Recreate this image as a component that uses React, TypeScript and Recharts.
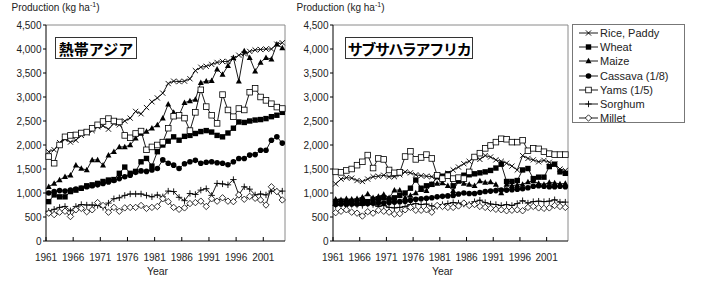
import React from 'react';
import { LineChart, Line, XAxis, YAxis, ReferenceLine, Legend } from 'recharts';

const years = [
  1961, 1962, 1963, 1964, 1965, 1966, 1967, 1968, 1969, 1970,
  1971, 1972, 1973, 1974, 1975, 1976, 1977, 1978, 1979, 1980,
  1981, 1982, 1983, 1984, 1985, 1986, 1987, 1988, 1989, 1990,
  1991, 1992, 1993, 1994, 1995, 1996, 1997, 1998, 1999, 2000,
  2001, 2002, 2003, 2004,
];

const yTicks = [0, 500, 1000, 1500, 2000, 2500, 3000, 3500, 4000, 4500];
const yearTicks = [1960.5, 1965.5, 1970.5, 1975.5, 1980.5, 1985.5, 1990.5, 1995.5, 2000.5];

// 熱帯アジア (kg/ha; cassava shown at 1/8, yams at 1/5)
const asiaRice = [
  1860, 1900, 2050, 2120, 2060, 2100, 2200, 2250, 2300, 2380,
  2400, 2330, 2450, 2420, 2500, 2560, 2700, 2650, 2780, 2900,
  2980, 3080, 3280, 3330, 3320, 3330, 3380, 3550, 3620, 3640,
  3680, 3720, 3740, 3740, 3800, 3870, 3900, 3950, 3980, 3990,
  4000, 4000, 4100, 4130,
];
const asiaWheat = [
  820, 960, 920, 920, 1030, 1060, 1100, 1150, 1170, 1200,
  1240, 1270, 1280, 1410, 1540, 1410, 1450, 1650, 1720, 1560,
  1860, 2000, 2080, 2170, 2100, 2180, 2200, 2240, 2280, 2300,
  2270, 2200, 2170, 2250, 2350, 2480, 2470, 2500, 2520, 2530,
  2550, 2590, 2620, 2680,
];
const asiaMaize = [
  1130, 1200, 1270, 1340, 1370, 1580, 1510, 1480, 1690, 1690,
  1580, 1790, 1860, 1960, 1960, 2000, 2140, 2240, 2280, 2350,
  2420, 2560, 2850, 2680, 2620, 2880, 2920, 2950, 3300, 3330,
  3340, 3580, 3470, 3650, 3820, 3330, 3960, 3820, 3540, 3720,
  3820, 3790, 4100, 4020,
];
const asiaCassava = [
  1000, 1030, 1050, 1040, 1060, 1080, 1100, 1130, 1150, 1170,
  1200, 1230, 1260, 1300, 1340, 1370, 1430, 1460, 1450, 1480,
  1510, 1690, 1620, 1580, 1510, 1610, 1650, 1680, 1620, 1640,
  1650, 1630, 1620, 1590, 1650, 1720, 1720, 1790, 1800, 1890,
  1890, 2100, 2170, 2040,
];
const asiaYams = [
  1760, 1620, 2000, 2170, 2200, 2210, 2250, 2270, 2350, 2420,
  2490, 2550, 2500, 2480, 2200, 2150, 2240, 2290, 1900, 1960,
  2000, 2060, 2350, 2600, 2620, 2560, 2300, 2680, 3150, 2800,
  2620, 2450, 3050, 2730, 2590, 2760, 2730, 3100, 3180, 3000,
  2930, 2860, 2790, 2760,
];
const asiaSorghum = [
  620, 660, 700, 720, 630, 720, 760, 750, 750, 740,
  700, 790, 880, 900, 950, 980, 980, 980, 950, 920,
  960, 920, 1040, 1030, 910, 840, 990, 970, 1060, 1090,
  950, 1200, 1190, 1170, 1280, 960, 1130, 1080, 960, 980,
  960, 1040, 1030, 1040,
];
const asiaMillet = [
  580, 550, 600, 620, 510, 650, 680, 610, 650, 800,
  740, 600, 700, 620, 690, 700, 700, 740, 680, 700,
  720, 880, 820, 700, 660, 690, 780, 800, 830, 720,
  880, 830, 900, 830, 820, 960, 870, 930, 890, 855,
  750, 1130, 1030, 855,
];

// サブサハラアフリカ
const afRice = [
  1190, 1290, 1320, 1310, 1260, 1240, 1290, 1340, 1350, 1370,
  1340, 1340, 1380, 1440, 1420, 1380, 1360, 1350, 1340, 1310,
  1350, 1410, 1480, 1540, 1610, 1660, 1750, 1700, 1780, 1750,
  1690, 1660, 1620, 1560, 1480, 1780, 1720, 1690, 1650, 1680,
  1640, 1600, 1500, 1470,
];
const afWheat = [
  820, 830, 810, 820, 830, 850, 820, 860, 880, 900,
  870, 900, 950, 1000, 1100, 1270, 1100, 1150, 1180, 1340,
  1350, 1400, 1150, 1260, 1370, 1380, 1400, 1420, 1440, 1470,
  1520, 1600, 1240, 1240, 1260, 1480, 1510, 1300, 1330, 1330,
  1550, 1600, 1440, 1410,
];
const afMaize = [
  870, 860, 880, 870, 880, 910, 980, 900, 930, 970,
  900, 1060, 1060, 900, 950, 1000, 1070, 1050, 1180, 1200,
  1210, 1150, 1050, 1240, 1200, 1180, 1150, 1250, 1220, 1230,
  1180, 1000, 1180, 1150, 1170, 1180, 1230, 1250, 1200, 1180,
  1220, 1210, 1190, 1200,
];
const afCassava = [
  760, 770, 760, 770, 770, 780, 780, 790, 790, 790,
  800, 810, 820, 830, 850, 870, 880, 890, 900, 920,
  930, 940, 950, 980, 1000, 990, 990, 1010, 1030, 1040,
  1050, 1060, 1060, 1070, 1080, 1090, 1110, 1140, 1150, 1140,
  1130, 1130, 1140, 1130,
];
const afYams = [
  1440, 1430, 1470, 1500, 1580, 1650, 1790, 1520, 1720, 1700,
  1480, 1420, 1430, 1760, 1870, 1700, 1740, 1800, 1720, 1370,
  1300, 1360, 1300, 1320, 1300, 1440, 1750, 1830, 1930, 1990,
  2060, 2130, 2120, 2060, 2060, 2100, 1880, 1930, 1920, 1860,
  1820, 1800, 1800, 1800,
];
const afSorghum = [
  740, 760, 770, 760, 750, 740, 770, 760, 720, 740,
  700, 690, 700, 720, 760, 780, 760, 770, 730, 720,
  760, 780, 800, 790, 770, 760, 820, 850, 800, 770,
  760, 740, 760, 740, 780, 840, 790, 820, 830, 820,
  830, 860, 810, 810,
];
const afMillet = [
  590, 620, 650, 600, 580, 520, 610, 580, 640, 620,
  600, 560, 570, 650, 700, 640, 640, 650, 600, 740,
  720, 700, 700, 730, 790, 740, 760, 720, 700, 680,
  660, 650, 630, 640, 650, 630, 700, 720, 690, 680,
  690, 740, 720, 700,
];

type Shape = 'cross' | 'square' | 'triangle' | 'circle' | 'openSquare' | 'plus' | 'diamond';

const series: { key: string; name: string; shape: Shape }[] = [
  { key: 'rice', name: 'Rice, Paddy', shape: 'cross' },
  { key: 'wheat', name: 'Wheat', shape: 'square' },
  { key: 'maize', name: 'Maize', shape: 'triangle' },
  { key: 'cassava', name: 'Cassava (1/8)', shape: 'circle' },
  { key: 'yams', name: 'Yams (1/5)', shape: 'openSquare' },
  { key: 'sorghum', name: 'Sorghum', shape: 'plus' },
  { key: 'millet', name: 'Millet', shape: 'diamond' },
];

const buildRows = (cols: Record<string, number[]>) =>
  years.map((year, i) => {
    const row: Record<string, number> = { year };
    Object.keys(cols).forEach((k) => {
      row[k] = cols[k][i];
    });
    return row;
  });

const asiaRows = buildRows({
  rice: asiaRice, wheat: asiaWheat, maize: asiaMaize, cassava: asiaCassava,
  yams: asiaYams, sorghum: asiaSorghum, millet: asiaMillet,
});
const africaRows = buildRows({
  rice: afRice, wheat: afWheat, maize: afMaize, cassava: afCassava,
  yams: afYams, sorghum: afSorghum, millet: afMillet,
});

const FONT = 'Arial, "Liberation Sans", sans-serif';
const JP_FONT = '"Noto Sans CJK JP", "Noto Sans CJK SC", sans-serif';
const INK = '#000';

function Marker({ shape, cx, cy }: { shape: Shape; cx: number; cy: number }) {
  switch (shape) {
    case 'cross':
      return (
        <path
          d={`M${cx - 2.6},${cy - 2.6}L${cx + 2.6},${cy + 2.6}M${cx - 2.6},${cy + 2.6}L${cx + 2.6},${cy - 2.6}`}
          stroke={INK}
          strokeWidth={0.9}
        />
      );
    case 'square':
      return <rect x={cx - 2.7} y={cy - 2.7} width={5.4} height={5.4} fill={INK} />;
    case 'triangle':
      return <polygon points={`${cx},${cy - 3.2} ${cx - 3},${cy + 2.3} ${cx + 3},${cy + 2.3}`} fill={INK} />;
    case 'circle':
      return <circle cx={cx} cy={cy} r={2.8} fill={INK} />;
    case 'openSquare':
      return <rect x={cx - 2.8} y={cy - 2.8} width={5.6} height={5.6} fill="#fff" stroke={INK} strokeWidth={0.8} />;
    case 'plus':
      return (
        <path
          d={`M${cx - 3.2},${cy}L${cx + 3.2},${cy}M${cx},${cy - 3.2}L${cx},${cy + 3.2}`}
          stroke={INK}
          strokeWidth={0.9}
        />
      );
    case 'diamond':
    default:
      return (
        <polygon
          points={`${cx},${cy - 3.2} ${cx + 3.2},${cy} ${cx},${cy + 3.2} ${cx - 3.2},${cy}`}
          fill="#fff"
          stroke={INK}
          strokeWidth={0.8}
        />
      );
  }
}

const YearTick = (props: any) => {
  const { x, y, payload } = props;
  return (
    <g>
      <line x1={x} y1={y} x2={x} y2={y - 4} stroke={INK} strokeWidth={1} />
      <text x={x} y={y + 19.5} textAnchor="middle" fontSize={10} fill="#222" fontFamily={FONT}>
        {Math.round(payload.value + 0.5)}
      </text>
    </g>
  );
};

const LegendBox = () => (
  <div
    style={{
      border: '1px solid #777',
      width: 113,
      height: 99,
      boxSizing: 'border-box',
      paddingTop: 1,
      background: '#fff',
    }}
  >
    {series.map((s) => (
      <div key={s.key} style={{ display: 'flex', alignItems: 'center', height: 14.2 }}>
        <svg width={27} height={14} style={{ flex: 'none' }}>
          <line x1={6} y1={7} x2={25} y2={7} stroke={INK} strokeWidth={0.9} />
          <Marker shape={s.shape} cx={15.5} cy={7} />
        </svg>
        <span style={{ fontSize: 11, color: '#222', fontFamily: FONT, lineHeight: '14px' }}>{s.name}</span>
      </div>
    ))}
  </div>
);

function Panel({
  rows,
  width,
  marginRight,
  withLegend,
}: {
  rows: Record<string, number>[];
  width: number;
  marginRight: number;
  withLegend?: boolean;
}) {
  return (
    <LineChart width={width} height={283} data={rows} margin={{ top: 25, right: marginRight, bottom: 0, left: 0 }}>
      <XAxis
        dataKey="year"
        type="number"
        domain={[1960.5, 2004.5]}
        ticks={yearTicks}
        interval={0}
        tick={<YearTick />}
        tickLine={false}
        tickSize={0}
        tickMargin={0}
        height={42}
        axisLine={{ stroke: INK, strokeWidth: 1 }}
        label={{ value: 'Year', position: 'insideBottom', offset: 8, dx: -8, fontSize: 10.5, fill: '#222', fontFamily: FONT }}
      />
      <YAxis
        type="number"
        domain={[0, 4500]}
        ticks={yTicks}
        interval={0}
        width={46}
        tickSize={3}
        tickMargin={1.5}
        tickFormatter={(v: number) => v.toLocaleString('en-US')}
        tick={{ fontSize: 10, fill: '#222', fontFamily: FONT }}
        axisLine={{ stroke: INK, strokeWidth: 1 }}
        tickLine={{ stroke: INK, strokeWidth: 1 }}
      />
      <ReferenceLine y={4500} stroke="#8a8a8a" strokeWidth={1} />
      <ReferenceLine x={2004.5} stroke="#8a8a8a" strokeWidth={1} />
      {series.map((s) => (
        <Line
          key={s.key}
          dataKey={s.key}
          name={s.name}
          stroke={INK}
          strokeWidth={0.9}
          isAnimationActive={false}
          dot={(p: any) => <Marker key={`${s.key}-${p.index}`} shape={s.shape} cx={p.cx} cy={p.cy} />}
          activeDot={false}
        />
      ))}
      {withLegend && (
        <Legend
          layout="horizontal"
          verticalAlign="middle"
          align="center"
          content={() => <LegendBox />}
          wrapperStyle={{ left: 285, top: 24, width: 115, height: 101 }}
        />
      )}
    </LineChart>
  );
}

const axisTitle: React.CSSProperties = {
  position: 'absolute',
  top: 1,
  fontSize: 10,
  color: '#222',
  fontFamily: FONT,
  whiteSpace: 'nowrap',
};

const regionBox: React.CSSProperties = {
  position: 'absolute',
  top: 37,
  height: 22,
  border: '1px solid #333',
  boxSizing: 'border-box',
  background: '#fff',
  fontFamily: JP_FONT,
  fontWeight: 700,
  color: '#000',
  display: 'flex',
  alignItems: 'center',
  justifyContent: 'center',
  whiteSpace: 'nowrap',
};

export default function App() {
  return (
    <div style={{ position: 'absolute', left: 0, top: 0, width: 703, height: 283, background: '#fff', overflow: 'hidden' }}>
      <div style={{ position: 'absolute', left: 0, top: 0 }}>
        <Panel rows={asiaRows} width={290} marginRight={5} />
      </div>
      <div style={{ position: 'absolute', left: 287, top: 0 }}>
        <Panel rows={africaRows} width={416} marginRight={135} withLegend />
      </div>
      <div style={{ ...axisTitle, left: 11.5 }}>
        Production (kg ha<sup style={{ fontSize: 7 }}>-1</sup>)
      </div>
      <div style={{ ...axisTitle, left: 296.5 }}>
        Production (kg ha<sup style={{ fontSize: 7 }}>-1</sup>)
      </div>
      <div style={{ ...regionBox, left: 55, width: 82, fontSize: 15 }}>熱帯アジア</div>
      <div style={{ ...regionBox, left: 345, width: 128, fontSize: 15, letterSpacing: -1.3 }}>サブサハラアフリカ</div>
    </div>
  );
}
